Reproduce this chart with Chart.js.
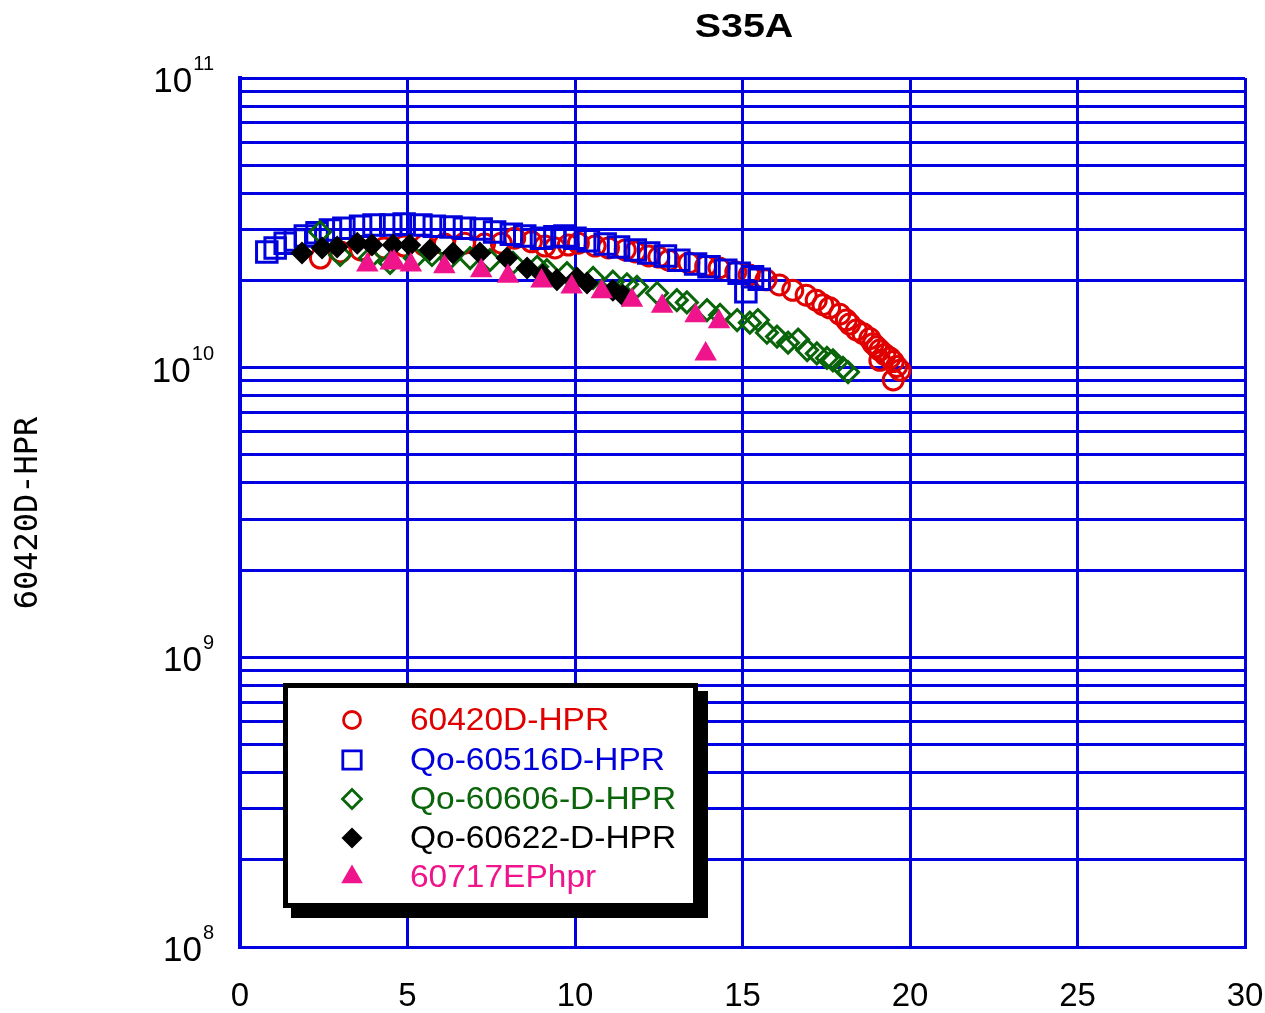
<!DOCTYPE html>
<html><head><meta charset="utf-8">
<script src="https://cdn.jsdelivr.net/npm/chart.js@4.4.0/dist/chart.umd.min.js"></script>
<style>html,body{margin:0;padding:0;background:#fff}canvas{display:block}</style>
</head><body>
<canvas id="c" width="1265" height="1013"></canvas>
<script>
const chartTitle = 'S35A';
const yAxisTitle = '60420D-HPR';
const seriesNames = ['60420D-HPR', 'Qo-60516D-HPR', 'Qo-60606-D-HPR', 'Qo-60622-D-HPR', '60717EPhpr'];
const seriesColors = ['#e00000', '#0000dc', '#0a640a', '#000000', '#f0148c'];
const yTickExponents = [8, 9, 10, 11];
const xTickValues = [0, 5, 10, 15, 20, 25, 30];

const xRed = [2.4,3.0,3.6,4.3,4.9,5.5,6.1,6.7,7.3,7.8,8.2,8.7,9.1,9.4,9.8,10.1,10.6,11.0,11.5,11.8,12.2,12.5,12.8,13.4,13.9,14.3,14.8,15.2,15.7,16.1,16.5,16.9,17.2,17.4,17.6,17.9,18.1,18.2,18.4,18.6,18.8,18.9,19.0,19.1,19.25,19.4,19.5,19.6,19.1,19.5,19.7];
const yRed = [2.39e10,2.51e10,2.55e10,2.59e10,2.63e10,2.65e10,2.67e10,2.69e10,2.67e10,2.69e10,2.80e10,2.72e10,2.63e10,2.59e10,2.65e10,2.69e10,2.63e10,2.59e10,2.55e10,2.51e10,2.43e10,2.41e10,2.35e10,2.30e10,2.24e10,2.21e10,2.14e10,2.09e10,2.01e10,1.93e10,1.85e10,1.78e10,1.71e10,1.65e10,1.61e10,1.53e10,1.46e10,1.415e10,1.35e10,1.31e10,1.26e10,1.21e10,1.18e10,1.15e10,1.11e10,1.08e10,1.05e10,1.01e10,1.06e10,9.07e9,9.8e9];

const xBlue = [0.8,1.05,1.35,1.65,1.95,2.3,2.7,3.1,3.6,4.0,4.5,4.9,5.4,5.8,6.3,6.7,7.2,7.6,8.1,8.5,9.0,9.4,9.7,10.0,10.4,10.9,11.3,11.8,12.2,12.7,13.1,13.6,14.0,14.5,14.9,15.1,15.3,15.5];
const yBlue = [2.51e10,2.59e10,2.69e10,2.76e10,2.85e10,2.92e10,2.99e10,3.03e10,3.08e10,3.11e10,3.11e10,3.13e10,3.11e10,3.08e10,3.06e10,3.03e10,3.01e10,2.94e10,2.89e10,2.85e10,2.80e10,2.83e10,2.85e10,2.80e10,2.74e10,2.67e10,2.61e10,2.55e10,2.49e10,2.43e10,2.35e10,2.28e10,2.23e10,2.17e10,2.12e10,1.83e10,2.06e10,2.02e10];

const xGreen = [2.39,2.99,3.88,4.48,5.22,5.73,6.27,6.87,7.46,8.15,8.87,9.16,9.76,10.54,11.13,11.55,11.85,12.45,13.04,13.34,13.94,14.33,14.84,15.22,15.46,15.73,16.03,16.36,16.66,16.93,17.22,17.52,17.7,18.0,18.15];
const yGreen = [2.94e10,2.45e10,2.39e10,2.30e10,2.39e10,2.45e10,2.39e10,2.39e10,2.35e10,2.30e10,2.23e10,2.17e10,2.12e10,2.04e10,1.98e10,1.94e10,1.90e10,1.81e10,1.71e10,1.68e10,1.58e10,1.52e10,1.46e10,1.43e10,1.46e10,1.32e10,1.28e10,1.22e10,1.25e10,1.15e10,1.12e10,1.08e10,1.06e10,9.98e9,9.66e9];

const xBlack = [1.85,2.45,2.9,3.5,3.94,4.57,5.07,5.67,6.36,7.16,7.97,8.57,9.04,9.46,10.06,10.36,11.13,11.43];
const yBlack = [2.49e10,2.59e10,2.61e10,2.69e10,2.65e10,2.65e10,2.65e10,2.55e10,2.49e10,2.49e10,2.39e10,2.21e10,2.09e10,2.01e10,2.04e10,1.96e10,1.85e10,1.78e10];

const xPink = [3.8,4.5,4.6,5.1,6.1,7.2,8.0,9.0,9.9,10.8,11.7,12.6,13.6,13.9,14.3];
const yPink = [2.26e10,2.30e10,2.32e10,2.26e10,2.23e10,2.16e10,2.07e10,1.99e10,1.90e10,1.83e10,1.71e10,1.63e10,1.51e10,1.115e10,1.44e10];

const pts = (xs, ys) => xs.map((x, i) => ({x: x, y: ys[i]}));

const markerStyles = [
  {pointStyle: 'circle', radius: 10, fill: false, legendRadius: 8.5},
  {pointStyle: 'rect', radius: 14.5, fill: false, legendRadius: 13},
  {pointStyle: 'rectRot', radius: 10.5, fill: false, legendRadius: 9.5},
  {pointStyle: 'rectRot', radius: 11.5, fill: true, legendRadius: 10.5},
  {pointStyle: 'triangle', radius: 13, fill: true, legendRadius: 12.5}
];
const seriesData = [pts(xRed, yRed), pts(xBlue, yBlue), pts(xGreen, yGreen), pts(xBlack, yBlack), pts(xPink, yPink)];

const datasets = seriesData.map((d, i) => ({
  label: seriesNames[i],
  data: d,
  showLine: false,
  pointStyle: markerStyles[i].pointStyle,
  pointRadius: markerStyles[i].radius,
  pointBorderWidth: markerStyles[i].fill ? 0 : 3,
  pointBorderColor: seriesColors[i],
  pointBackgroundColor: markerStyles[i].fill ? seriesColors[i] : 'rgba(0,0,0,0)',
  order: 5 - i
}));

const GRID = '#0000e0';

const decorPlugin = {
  id: 'decor',
  beforeDraw(chart) {
    const ctx = chart.ctx;
    ctx.save();
    ctx.fillStyle = '#fff';
    ctx.fillRect(0, 0, chart.width, chart.height);
    ctx.restore();
  },
  afterDraw(chart) {
    const ctx = chart.ctx;
    const ys = chart.scales.y;
    ctx.save();
    // title
    ctx.fillStyle = '#000';
    ctx.save();
    ctx.translate(744, 37);
    ctx.scale(1.16, 1);
    ctx.font = 'bold 34px "Liberation Sans", Arial, sans-serif';
    ctx.textAlign = 'center';
    ctx.textBaseline = 'alphabetic';
    ctx.fillText(chartTitle, 0, 0);
    ctx.restore();
    // y tick labels 10^n
    yTickExponents.forEach(e => {
      const py = ys.getPixelForValue(Math.pow(10, e));
      const expTxt = String(e);
      ctx.font = '20px "Liberation Sans", Arial, sans-serif';
      const ew = ctx.measureText(expTxt).width;
      ctx.textAlign = 'left';
      ctx.textBaseline = 'alphabetic';
      ctx.fillText(expTxt, 214 - ew, py - 8);
      ctx.font = '35px "Liberation Sans", Arial, sans-serif';
      ctx.textAlign = 'right';
      ctx.fillText('10', 214 - ew - 1, py + 14);
    });
    // y axis title
    ctx.save();
    ctx.translate(37, 513);
    ctx.rotate(-Math.PI / 2);
    ctx.font = '32px "DejaVu Sans Mono", monospace';
    ctx.textAlign = 'center';
    ctx.textBaseline = 'alphabetic';
    ctx.fillText(yAxisTitle, 0, 0);
    ctx.restore();
    // legend box
    ctx.fillStyle = '#000';
    ctx.fillRect(291, 691, 417, 227);
    ctx.fillRect(283, 683, 415, 225);
    ctx.fillStyle = '#fff';
    ctx.fillRect(288, 688, 405, 215);
    const rowY = [720, 760, 799, 838, 877];
    seriesNames.forEach((name, i) => {
      const m = markerStyles[i];
      ctx.strokeStyle = seriesColors[i];
      ctx.fillStyle = m.fill ? seriesColors[i] : 'rgba(0,0,0,0)';
      ctx.lineWidth = m.fill ? 0 : 2.8;
      Chart.helpers.drawPoint(ctx, {pointStyle: m.pointStyle, radius: m.legendRadius, rotation: 0, borderWidth: m.fill ? 0 : 2.8}, 352, rowY[i]);
      ctx.fillStyle = seriesColors[i];
      ctx.save();
      ctx.translate(410, rowY[i] + 1);
      ctx.scale(1.08, 1);
      ctx.font = '31px "Liberation Sans", Arial, sans-serif';
      ctx.textAlign = 'left';
      ctx.textBaseline = 'middle';
      ctx.fillText(name, 0, 0);
      ctx.restore();
    });
    ctx.restore();
  }
};

new Chart(document.getElementById('c'), {
  type: 'scatter',
  data: {datasets: datasets},
  options: {
    responsive: false,
    animation: false,
    events: [],
    layout: {padding: {left: 0, right: 20, top: 78, bottom: 0}},
    plugins: {legend: {display: false}, title: {display: false}, tooltip: {enabled: false}},
    scales: {
      x: {
        type: 'linear', min: 0, max: 30,
        afterBuildTicks: s => { s.ticks = xTickValues.map(v => ({value: v})); },
        afterFit: s => { s.height = 66; s.paddingLeft = 0; s.paddingRight = 0; },
        grid: {color: GRID, lineWidth: 3, drawTicks: false},
        border: {display: true, color: GRID, width: 3},
        ticks: {color: '#000', font: {size: 33, family: '"Liberation Sans", Arial, sans-serif'}, padding: 30, maxRotation: 0}
      },
      y: {
        type: 'logarithmic', min: 1e8, max: 1e11,
        afterBuildTicks: s => {
          const t = [];
          for (let e = 8; e < 11; e++) for (let k = 1; k <= 9; k++) t.push({value: k * Math.pow(10, e)});
          t.push({value: 1e11});
          s.ticks = t;
        },
        afterFit: s => { s.width = 240; s.paddingTop = 0; s.paddingBottom = 0; },
        grid: {color: GRID, lineWidth: 3, drawTicks: false},
        border: {display: true, color: GRID, width: 4},
        ticks: {display: false}
      }
    }
  },
  plugins: [decorPlugin]
});
</script>
</body></html>
